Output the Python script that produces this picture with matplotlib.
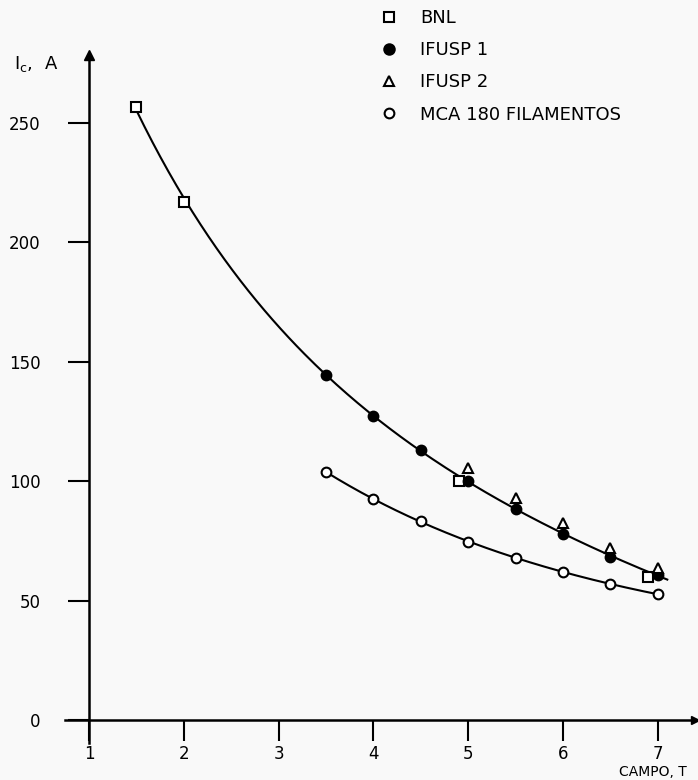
import numpy as np
import matplotlib
matplotlib.use("Agg")
import matplotlib.pyplot as plt
from matplotlib.lines import Line2D

plt.rcParams['font.family'] = ['DejaVu Sans']

# ---- data ----
bnl_x = [1.5, 2.0, 4.9, 6.9]
bnl_y = [256.4, 216.9, 100.0, 60.0]

ifusp1_x = [3.5, 4.0, 4.5, 5.0, 5.5, 6.0, 6.5, 7.0]
ifusp1_y = [144.4, 127.2, 113.0, 100.0, 88.2, 77.8, 68.3, 60.7]

ifusp2_x = [5.0, 5.5, 6.0, 6.5, 7.0]
ifusp2_y = [105.3, 93.0, 82.6, 71.8, 63.5]

mca_x = [3.5, 4.0, 4.5, 5.0, 5.5, 6.0, 6.5, 7.0]
mca_y = [103.6, 92.5, 83.3, 74.6, 67.9, 61.8, 56.9, 52.7]

x_ticks = [1, 2, 3, 4, 5, 6, 7]
y_ticks = [0, 50, 100, 150, 200, 250]

legend_labels = ['BNL', 'IFUSP 1', 'IFUSP 2', 'MCA 180 FILAMENTOS']

# ---- figure ----
W, H = 698, 780
fig = plt.figure(figsize=(W / 100, H / 100), dpi=100, facecolor='#f9f9f9')
ax = fig.add_axes([89 / W, 60 / H, (W - 89) / W, 665 / H])
ax.set_facecolor('none')
ax.set_xlim(1, 1 + (W - 89) / 94.8)
ax.set_ylim(0, 665 / 2.39)

for s in ax.spines.values():
    s.set_visible(False)

# axis lines with arrows
ax.plot([-24 / 609, 1.0], [0, 0], transform=ax.transAxes, color='black', lw=1.8, clip_on=False)
ax.plot([0, 0], [-23 / 665, 1.0], transform=ax.transAxes, color='black', lw=1.8, clip_on=False)
ax.plot([0], [1.0], marker='^', ms=7, color='black', transform=ax.transAxes, clip_on=False)
ax.plot([0.995], [0], marker='>', ms=6, color='black', transform=ax.transAxes, clip_on=False)

ax.set_xticks(x_ticks)
ax.set_yticks(y_ticks)
ax.tick_params(axis='both', direction='out', length=15, width=1.5, labelsize=12, colors='black')
ax.tick_params(axis='y', pad=20)
ax.tick_params(axis='x', pad=3)

# fitted smooth curves (from the data arrays)
upper_x = np.array(bnl_x[:2] + ifusp1_x)
upper_y = np.array(bnl_y[:2] + ifusp1_y)
cu = np.polyfit(upper_x, np.log(upper_y), 3)
xu = np.linspace(min(upper_x), max(upper_x) + 0.1, 200)
ax.plot(xu, np.exp(np.polyval(cu, xu)), color='black', lw=1.5, zorder=2)

cl = np.polyfit(np.array(mca_x), np.log(np.array(mca_y)), 2)
xl = np.linspace(min(mca_x), max(mca_x), 200)
ax.plot(xl, np.exp(np.polyval(cl, xl)), color='black', lw=1.5, zorder=2)

mk = dict(linestyle='none', color='black', mew=1.5, zorder=3)
ax.plot(bnl_x, bnl_y, marker='s', ms=7, mfc='white', mec='black', **mk)
ax.plot(ifusp1_x, ifusp1_y, marker='o', ms=7, mfc='black', mec='black', **mk)
ax.plot(ifusp2_x, ifusp2_y, marker='^', ms=7.5, mfc='white', mec='black', **mk)
ax.plot(mca_x, mca_y, marker='o', ms=7, mfc='white', mec='black', **mk)

# legend
handles = [
    Line2D([], [], marker='s', ms=7, mfc='white', mec='black', mew=1.5, ls='none'),
    Line2D([], [], marker='o', ms=7.5, mfc='black', mec='black', mew=1.5, ls='none'),
    Line2D([], [], marker='^', ms=7, mfc='white', mec='black', mew=1.5, ls='none'),
    Line2D([], [], marker='o', ms=7, mfc='white', mec='black', mew=1.5, ls='none'),
]
fig.legend(handles, legend_labels, loc='upper left', bbox_to_anchor=(364 / W, 1 + 7 / H),
           frameon=False, fontsize=13, handlelength=1.0, handletextpad=1.2,
           labelspacing=0.78)

# axis titles
fig.text(14 / W, 1 - 64 / H, r'$\mathregular{I_c}$,  A', fontsize=13, ha='left', va='center')
fig.text(619 / W, 1 - 772 / H, 'CAMPO, T', fontsize=10, ha='left', va='center')

fig.savefig('out.png', dpi=100, facecolor=fig.get_facecolor())
